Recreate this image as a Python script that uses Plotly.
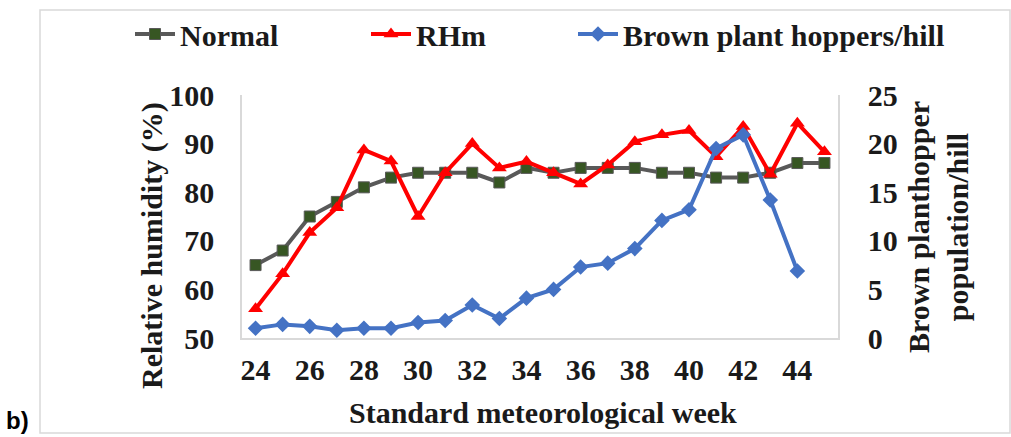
import plotly.graph_objects as go

# Standard meteorological weeks
weeks = list(range(24, 46))
# Normal relative humidity (%)
normal_rh = [65, 68, 75, 78, 81, 83, 84, 84, 84, 82, 85, 84, 85, 85, 85, 84, 84, 83, 83, 84, 86, 86]
# Maximum relative humidity (%)
rhm = [56, 63.2, 71.7, 76.8, 88.7, 86.4, 75, 84, 90, 85, 86.3, 84, 81.7, 85.6, 90.4, 91.8, 92.7, 87.3, 93.5, 83.7, 94.2, 88.3]
# Brown plant hoppers per hill (weeks 24-44)
bph_weeks = list(range(24, 45))
bph = [1.0, 1.4, 1.2, 0.8, 1.0, 1.0, 1.6, 1.8, 3.4, 2.0, 4.1, 5.0, 7.3, 7.7, 9.2, 12.1, 13.2, 19.5, 20.9, 14.2, 6.9]

x_ticks = list(range(24, 45, 2))
left_ticks = [50, 60, 70, 80, 90, 100]
right_ticks = [0, 5, 10, 15, 20, 25]

SERIF = "Liberation Serif"
FS = 30

fig = go.Figure()
fig.add_trace(go.Scatter(
    x=weeks, y=normal_rh, name="Normal", mode="lines+markers",
    line=dict(color="#595959", width=4),
    marker=dict(symbol="square", size=11, color="#375623", line=dict(color="#595959", width=1)),
    legend="legend",
))
fig.add_trace(go.Scatter(
    x=weeks, y=rhm, name="RHm", mode="lines+markers",
    line=dict(color="#FF0000", width=4),
    marker=dict(symbol="triangle-up", size=13, color="#FF0000"),
    legend="legend2",
))
fig.add_trace(go.Scatter(
    x=bph_weeks, y=bph, name="Brown plant hoppers/hill", mode="lines+markers",
    line=dict(color="#4472C4", width=4),
    marker=dict(symbol="diamond", size=12, color="#4472C4"),
    yaxis="y2", legend="legend3",
))

L, R, T, B = 242, 838, 95, 338
W, H = 1011, 437


def px(xp):
    return (xp - L) / (R - L)


def py(yp):
    return (B - yp) / (B - T)


legend_common = dict(
    orientation="h", xref="container", yref="container",
    yanchor="middle", xanchor="left", y=1 - 34 / H,
    font=dict(family=SERIF, size=FS, color="#1a1a1a", weight="bold"),
    bgcolor="rgba(0,0,0,0)", itemwidth=40,
)

axis_line = "#D9D9D9"
fig.update_layout(
    width=W, height=H,
    margin=dict(l=L, r=W - R, t=T, b=H - B),
    paper_bgcolor="white", plot_bgcolor="white",
    showlegend=True,
    legend=dict(legend_common, x=130 / W),
    legend2=dict(legend_common, x=366 / W),
    legend3=dict(legend_common, x=573 / W),
    xaxis=dict(
        range=[23.5, 45.5], tickvals=x_ticks, showgrid=False, zeroline=False,
        showline=True, linecolor=axis_line, linewidth=1.5, ticks="",
        ticklabelstandoff=4,
        tickfont=dict(family=SERIF, size=FS, color="#1a1a1a", weight="bold"),
    ),
    yaxis=dict(
        range=[50, 100], tickvals=left_ticks, showgrid=False, zeroline=False,
        showline=True, linecolor=axis_line, linewidth=1.5, ticks="",
        ticklabelstandoff=20,
        tickfont=dict(family=SERIF, size=FS, color="#1a1a1a", weight="bold"),
    ),
    yaxis2=dict(
        range=[0, 25], tickvals=right_ticks, overlaying="y", side="right",
        showgrid=False, zeroline=False,
        showline=True, linecolor=axis_line, linewidth=1.5, ticks="",
        ticklabelstandoff=22,
        tickfont=dict(family=SERIF, size=FS, color="#1a1a1a", weight="bold"),
    ),
)

title_font = dict(family=SERIF, size=FS, color="#1a1a1a", weight="bold")
fig.add_annotation(text="Standard meteorological week", xref="paper", yref="paper",
                   x=px(543), y=py(412), showarrow=False, font=title_font,
                   xanchor="center", yanchor="middle")
fig.add_annotation(text="Relative humidity (%)", xref="paper", yref="paper",
                   x=px(152), y=py(246), showarrow=False, font=title_font,
                   textangle=-90, xanchor="center", yanchor="middle")
fig.add_annotation(text="Brown planthopper<br>population/hill", xref="paper", yref="paper",
                   x=px(938), y=py(227), showarrow=False, font=title_font,
                   textangle=-90, xanchor="center", yanchor="middle")
fig.add_annotation(text="b)", xref="paper", yref="paper",
                   x=px(4), y=py(420), showarrow=False,
                   font=dict(family="Liberation Sans", size=24, color="#000000", weight="bold"),
                   xanchor="left", yanchor="middle")

# Outer chart border
fig.add_shape(type="rect", xref="paper", yref="paper",
              x0=px(40), x1=px(1010), y0=py(433), y1=py(10),
              line=dict(color="#D9D9D9", width=1.5), fillcolor="rgba(0,0,0,0)", layer="below")

fig.write_html("out.html")
